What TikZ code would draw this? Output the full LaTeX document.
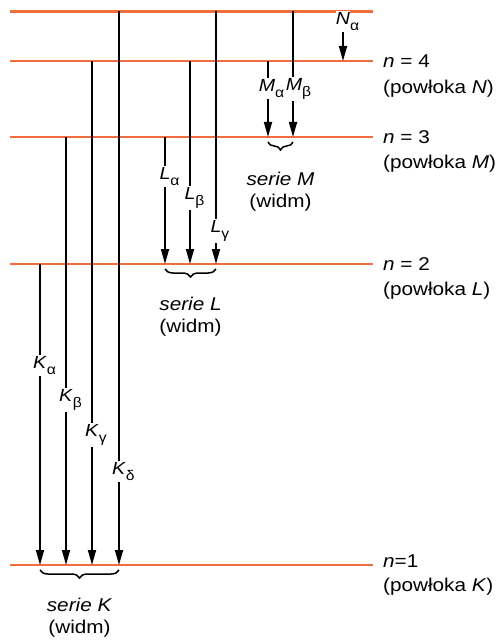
\documentclass[tikz,border=0pt]{standalone}
\usepackage{fontspec}
\setmainfont{Liberation Sans}[FakeStretch=1.12]
\usepackage{xcolor}
\definecolor{LevelOrange}{HTML}{F26D3D}
\usepackage{tikz}
\usetikzlibrary{arrows.meta, positioning, decorations.pathreplacing}

% letter with a subscript hanging to the right
\newcommand{\trlab}[2]{\textit{#1}\rlap{\raisebox{-6pt}{\fontsize{14}{14}\selectfont #2}}}

\begin{document}
\begin{tikzpicture}[
  x=1pt, y=-1pt,
  font=\fontsize{18.5}{22}\selectfont,
  level/.style={draw=LevelOrange, line width=2.2pt},
  trans/.style={-{Triangle[length=15pt, width=8pt]}, line width=1.7pt},
  lab/.style={fill=white, inner xsep=0pt, inner ysep=1.5pt, font=\fontsize{17.5}{17.5}\selectfont},
  shell/.style={anchor=west, inner sep=0pt},
  series/.style={decorate, decoration={brace, mirror, amplitude=8pt, raise=5pt}, line width=1.5pt},
  sername/.style={align=center, inner sep=0pt},
]
\useasboundingbox (0,0) rectangle (503,644);

% Energy levels
\coordinate (l5) at (10,11.5);  \coordinate (r5) at (373,11.5);
\coordinate (l4) at (10,61);    \coordinate (r4) at (373,61);
\coordinate (l3) at (10,137);   \coordinate (r3) at (373,137);
\coordinate (l2) at (10,264);   \coordinate (r2) at (373,264);
\coordinate (l1) at (10,565);   \coordinate (r1) at (373,565);
\foreach \n in {1,...,5}
  \draw[level] (l\n) -- (r\n);

% Transition columns
\coordinate (xKa) at (40,0);  \coordinate (xKb) at (66,0);
\coordinate (xKc) at (92,0);  \coordinate (xKd) at (119,0);
\coordinate (xLa) at (165,0); \coordinate (xLb) at (190,0);
\coordinate (xLc) at (216,0);
\coordinate (xMa) at (268,0); \coordinate (xMb) at (293,0);
\coordinate (xNa) at (343,0);

% K series
\draw[trans] (xKa |- l2) -- node[lab, pos=0.336] {\trlab{K}{α}} (xKa |- l1);
\draw[trans] (xKb |- l3) -- node[lab, pos=0.614] {\trlab{K}{β}} (xKb |- l1);
\draw[trans] (xKc |- l4) -- node[lab, pos=0.742] {\trlab{K}{γ}} (xKc |- l1);
\draw[trans] (xKd |- l5) -- node[lab, pos=0.831] {\trlab{K}{δ}} (xKd |- l1);

% L series
\draw[trans] (xLa |- l3) -- node[lab, pos=0.311] {\trlab{L}{α}} (xLa |- l2);
\draw[trans] (xLb |- l4) -- node[lab, pos=0.677] {\trlab{L}{β}} (xLb |- l2);
\draw[trans] (xLc |- l5) -- node[lab, pos=0.869] {\trlab{L}{γ}} (xLc |- l2);

% M series (beta first, so alpha's subscript stays on top)
\draw[trans] (xMb |- l5) -- node[lab, pos=0.62, xshift=1pt] {\trlab{M}{β}} (xMb |- l3);
\draw[trans] (xMa |- l4) -- node[lab, pos=0.36, xshift=-1pt] {\trlab{M}{α}} (xMa |- l3);

% N series
\draw[trans] (xNa |- l5) -- node[lab, pos=0.2] {\trlab{N}{α}} (xNa |- l4);

% Braces
\draw[series] (xKa |- l1) -- node[sername, below=32pt] (serK) {\textit{serie K}\\(widm)} (xKd |- l1);
\draw[series] (xLa |- l2) -- node[sername, below=32pt] (serL) {\textit{serie L}\\(widm)} (xLc |- l2);
\draw[series] (xMa |- l3) -- node[sername, below=34pt] (serM) {\textit{serie M}\\(widm)} (xMb |- l3);

% Shell names
\node[shell] (n4) at ([xshift=10pt]r4) {\textit{n} = 4};
\node[shell, anchor=base west] (p4) at ([yshift=-26pt]n4.base west) {(powłoka \textit{N})};
\node[shell] (n3) at ([xshift=10pt]r3) {\textit{n} = 3};
\node[shell, anchor=base west] (p3) at ([yshift=-25pt]n3.base west) {(powłoka \textit{M})};
\node[shell] (n2) at ([xshift=10pt]r2) {\textit{n} = 2};
\node[shell, anchor=base west] (p2) at ([yshift=-25pt]n2.base west) {(powłoka \textit{L})};
\node[shell] (n1) at ([xshift=10pt, yshift=4pt]r1) {\textit{n}=1};
\node[shell, anchor=base west] (p1) at ([yshift=-24pt]n1.base west) {(powłoka \textit{K})};

\end{tikzpicture}
\end{document}
